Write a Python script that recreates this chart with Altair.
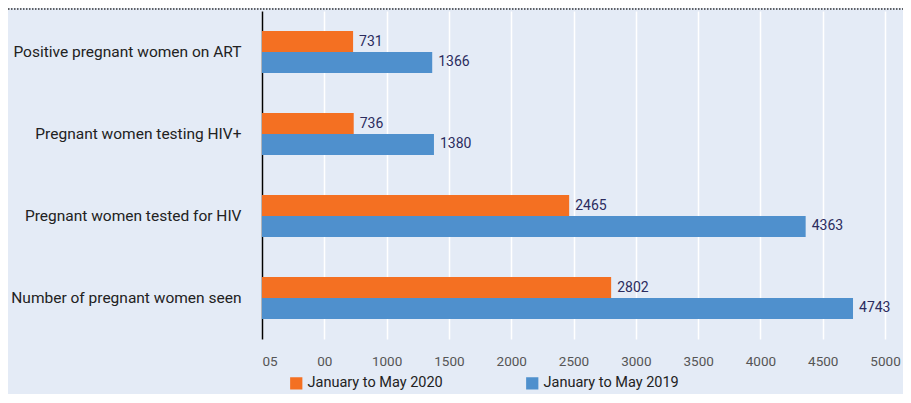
import altair as alt
import pandas as pd

categories = ["Positive pregnant women on ART", "Pregnant women testing HIV+",
              "Pregnant women tested for HIV", "Number of pregnant women seen"]
series = ["January to May 2020", "January to May 2019"]
values_2020 = [731, 736, 2465, 2802]
values_2019 = [1366, 1380, 4363, 4743]
tick_values = [0, 500, 1000, 1500, 2000, 2500, 3000, 3500, 4000, 4500, 5000]

rows = []
for c, v in zip(categories, values_2020):
    rows.append({"category": c, "series": series[0], "value": v})
for c, v in zip(categories, values_2019):
    rows.append({"category": c, "series": series[1], "value": v})
df = pd.DataFrame(rows)

FONT = "Roboto, sans-serif"
BG = "#e4ebf6"

y_enc = alt.Y("category:N", sort=categories, title=None,
              scale=alt.Scale(paddingInner=0.49, paddingOuter=0.245),
              axis=alt.Axis(domainColor="#000000", domainWidth=1.5, ticks=False,
                            labelFontSize=15.5, labelColor="#222222", labelPadding=21,
                            labelFont=FONT, labelLimit=0, grid=False))
x_enc = alt.X("value:Q", title=None,
              scale=alt.Scale(domain=[0, 5096], nice=False),
              axis=alt.Axis(values=tick_values, format="d", domain=False, ticks=False,
                            gridColor="#ffffff", gridWidth=1.5,
                            labelFontSize=13.5, labelColor="#555555", labelFont=FONT,
                            labelPadding=15,
                            labelExpr="datum.value == 0 ? '05' : (datum.value == 500 ? '00' : datum.label)"))
yoff = alt.YOffset("series:N", sort=series, scale=alt.Scale(paddingInner=0, paddingOuter=0))

bars = alt.Chart(df).mark_bar(stroke=None).encode(
    y=y_enc, x=x_enc, yOffset=yoff,
    color=alt.Color("series:N", sort=series,
                    scale=alt.Scale(domain=series, range=["#f47022", "#4f90cd"]),
                    legend=alt.Legend(title=None, orient="none", legendX=27, legendY=365,
                                      direction="horizontal", symbolType="square",
                                      symbolSize=150, symbolStrokeWidth=0,
                                      labelFontSize=14.5, labelColor="#222222", labelFont=FONT,
                                      columnPadding=82, symbolOffset=0, labelOffset=4)),
)
labels = alt.Chart(df).mark_text(align="left", baseline="middle", dx=6, fontSize=14,
                                 color="#2b2b5e", font=FONT).encode(
    y=alt.Y("category:N", sort=categories), x="value:Q", yOffset=alt.YOffset("series:N", sort=series),
    text="value:Q")

top_line = alt.Chart(pd.DataFrame({"a": [0]})).mark_rule(
    color="#333333", strokeDash=[1.5, 1.5], strokeWidth=1.5).encode(
    x=alt.value(-254), x2=alt.value(641), y=alt.value(-2))

chart = alt.layer(bars, labels, top_line).properties(
    width=635, height=328,
    autosize=alt.AutoSizeParams(type="none"),
    padding={"left": 254, "top": 3, "right": 6, "bottom": 55},
    background=BG,
).configure_view(stroke=None, fill=BG)

chart.save("out.html", embed_options={"renderer": "svg", "actions": False})
